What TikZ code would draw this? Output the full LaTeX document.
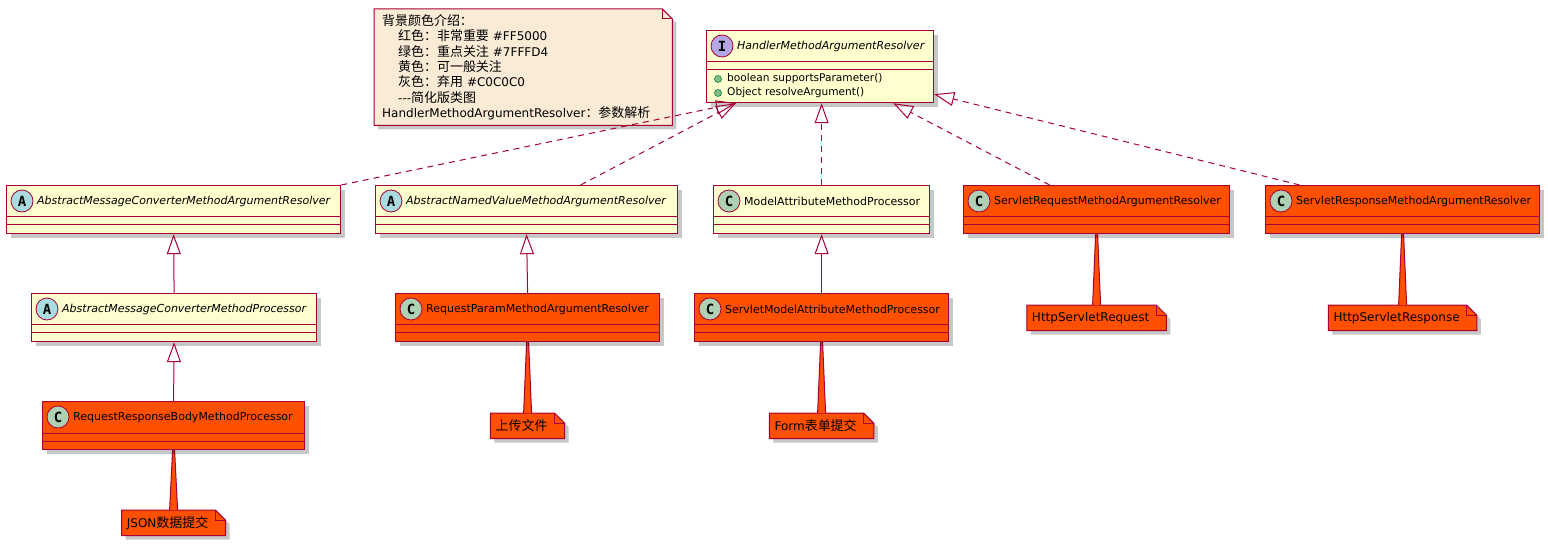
\documentclass[tikz,border=0pt]{standalone}
\usepackage{fontspec}
\setmainfont{DejaVu Sans}[ItalicFont={DejaVu Sans Oblique},BoldFont={DejaVu Sans Bold}]
\newfontfamily\cjk{Noto Sans CJK SC}[Scale=1.08]
\newfontfamily\badgefont{DejaVu Sans Mono}[BoldFont={DejaVu Sans Mono Bold}]
\usepackage{tikz}
\usetikzlibrary{positioning,calc,arrows.meta,shadows}

\newcommand{\zh}[1]{{\cjk #1}}

\definecolor{umlred}{HTML}{A80036}
\definecolor{umlyellow}{HTML}{FEFECE}
\definecolor{hot}{HTML}{FF5000}
\definecolor{notebeige}{HTML}{FAEBD7}
\definecolor{badgeA}{HTML}{A9DCDF}
\definecolor{badgeC}{HTML}{ADD1B2}
\definecolor{badgeI}{HTML}{B4A7E5}
\definecolor{pubfill}{HTML}{84BE84}
\definecolor{publine}{HTML}{038048}

\pgfdeclarelayer{bg}
\pgfsetlayers{bg,main}

\tikzset{
  umlline/.style={draw=umlred, line width=1pt},
  classbox/.style={rectangle, draw=umlred, line width=1.2pt, fill=umlyellow, anchor=north west,
    minimum height=48pt, inner sep=0pt,
    drop shadow={shadow xshift=4pt, shadow yshift=-4pt, fill=black, opacity=0.22}},
  hotbox/.style={classbox, fill=hot},
  badge/.style={circle, draw=umlred, line width=0.8pt, minimum size=22pt, inner sep=0pt,
    font=\badgefont\fontsize{14}{14}\selectfont\bfseries},
  cname/.style={anchor=west, inner sep=0pt, font=\fontsize{11}{13}\selectfont},
  aname/.style={cname, font=\fontsize{11}{13}\selectfont\itshape},
  mname/.style={anchor=west, inner sep=0pt, font=\fontsize{10.6}{12}\selectfont},
  pub/.style={circle, draw=publine, fill=pubfill, line width=0.6pt, minimum size=7pt, inner sep=0pt},
  notebox/.style={rectangle, anchor=north, inner xsep=5pt, inner ysep=0pt, minimum height=25pt,
    font=\fontsize{12}{14}\selectfont},
  legend/.style={rectangle, anchor=north west, text width=282pt, inner xsep=8pt, inner ysep=0pt,
    minimum height=116pt, align=left, font=\fontsize{12}{15.3}\selectfont},
  notepath/.style={umlline, drop shadow={shadow xshift=4pt, shadow yshift=-4pt, fill=black, opacity=0.22}},
  extends/.style={umlline, -{Triangle[open, length=20pt, width=14pt]}},
  realizes/.style={extends, dash pattern=on 6pt off 5pt}
}

\begin{document}
\begin{tikzpicture}[x=1pt, y=-1pt]
  %\draw[step=100,gray,very thin] (0,0) grid (1548,545);
  \useasboundingbox (0,0) rectangle (1548,545);

  % legend note
  \node[legend] (legend) at (374,9) {\zh{背景颜色介绍：}\\
    \hspace*{16pt}\zh{红色：非常重要} \#FF5000\\
    \hspace*{16pt}\zh{绿色：重点关注} \#7FFFD4\\
    \hspace*{16pt}\zh{黄色：可一般关注}\\
    \hspace*{16pt}\zh{灰色：弃用} \#C0C0C0\\
    \hspace*{16pt}-{}-{}-\zh{简化版类图}\\
    HandlerMethodArgumentResolver\zh{：参数解析}};

  % interface
  \node[classbox, minimum width=227pt, minimum height=72pt] (iface) at (706,30) {};
  \node[badge, fill=badgeI] (iface-b) at ([shift={(16pt,-16pt)}]iface.north west) {I};
  \node[aname] (iface-t) at ([shift={(31pt,-16pt)}]iface.north west) {HandlerMethodArgumentResolver};
  \node[pub] (iface-p1) at ([shift={(12pt,-49pt)}]iface.north west) {};
  \node[pub] (iface-p2) at ([shift={(12pt,-63pt)}]iface.north west) {};
  \node[mname] (iface-m1) at ([shift={(21pt,-49pt)}]iface.north west) {boolean supportsParameter()};
  \node[mname] (iface-m2) at ([shift={(21pt,-63pt)}]iface.north west) {Object resolveArgument()};

  % second row
  \node[classbox, minimum width=334pt] (amcmar) at (6,185) {};
  \node[badge, fill=badgeA] (amcmar-b) at ([shift={(16pt,-16pt)}]amcmar.north west) {A};
  \node[aname] (amcmar-t) at ([shift={(31pt,-16pt)}]amcmar.north west) {AbstractMessageConverterMethodArgumentResolver};

  \node[classbox, minimum width=302pt] (anvmar) at (375,185) {};
  \node[badge, fill=badgeA] (anvmar-b) at ([shift={(16pt,-16pt)}]anvmar.north west) {A};
  \node[aname] (anvmar-t) at ([shift={(31pt,-16pt)}]anvmar.north west) {AbstractNamedValueMethodArgumentResolver};

  \node[classbox, minimum width=216pt] (mamp) at (713,185) {};
  \node[badge, fill=badgeC] (mamp-b) at ([shift={(16pt,-16pt)}]mamp.north west) {C};
  \node[cname] (mamp-t) at ([shift={(31pt,-16pt)}]mamp.north west) {ModelAttributeMethodProcessor};

  \node[hotbox, minimum width=266pt] (srmar) at (963,185) {};
  \node[badge, fill=badgeC] (srmar-b) at ([shift={(16pt,-16pt)}]srmar.north west) {C};
  \node[cname] (srmar-t) at ([shift={(31pt,-16pt)}]srmar.north west) {ServletRequestMethodArgumentResolver};

  \node[hotbox, minimum width=274pt] (srespmar) at (1265,185) {};
  \node[badge, fill=badgeC] (srespmar-b) at ([shift={(16pt,-16pt)}]srespmar.north west) {C};
  \node[cname] (srespmar-t) at ([shift={(31pt,-16pt)}]srespmar.north west) {ServletResponseMethodArgumentResolver};

  % third row
  \node[classbox, minimum width=285pt] (amcmp) at (31,293) {};
  \node[badge, fill=badgeA] (amcmp-b) at ([shift={(16pt,-16pt)}]amcmp.north west) {A};
  \node[aname] (amcmp-t) at ([shift={(31pt,-16pt)}]amcmp.north west) {AbstractMessageConverterMethodProcessor};

  \node[hotbox, minimum width=264pt] (rpmar) at (395,293) {};
  \node[badge, fill=badgeC] (rpmar-b) at ([shift={(16pt,-16pt)}]rpmar.north west) {C};
  \node[cname] (rpmar-t) at ([shift={(31pt,-16pt)}]rpmar.north west) {RequestParamMethodArgumentResolver};

  \node[hotbox, minimum width=254pt] (smamp) at (694,293) {};
  \node[badge, fill=badgeC] (smamp-b) at ([shift={(16pt,-16pt)}]smamp.north west) {C};
  \node[cname] (smamp-t) at ([shift={(31pt,-16pt)}]smamp.north west) {ServletModelAttributeMethodProcessor};

  % fourth row
  \node[hotbox, minimum width=262pt] (rrbmp) at (42,401) {};
  \node[badge, fill=badgeC] (rrbmp-b) at ([shift={(16pt,-16pt)}]rrbmp.north west) {C};
  \node[cname] (rrbmp-t) at ([shift={(31pt,-16pt)}]rrbmp.north west) {RequestResponseBodyMethodProcessor};

  % compartments
  \foreach \c in {iface,amcmar,anvmar,mamp,srmar,srespmar,amcmp,rpmar,smamp,rrbmp}{
    \draw[umlline] ([yshift=-32pt]\c.north west) -- ([yshift=-32pt]\c.north east);
    \draw[umlline] ([yshift=-40pt]\c.north west) -- ([yshift=-40pt]\c.north east);
  }

  % notes
  \node[notebox] (n-req) at ([yshift=-71pt]srmar.south) {HttpServletRequest\kern12pt};
  \node[notebox] (n-resp) at ([yshift=-71pt]srespmar.south) {HttpServletResponse\kern12pt};
  \node[notebox] (n-file) at ([yshift=-71pt]rpmar.south) {\zh{上传文件}\kern12pt};
  \node[notebox] (n-form) at ([yshift=-71pt]smamp.south) {Form\zh{表单提交}\kern12pt};
  \node[notebox] (n-json) at ([yshift=-60pt]rrbmp.south) {JSON\zh{数据提交}\kern12pt};

  \begin{pgfonlayer}{bg}
    \foreach \n/\col in {legend/notebeige,n-req/hot,n-resp/hot,n-file/hot,n-form/hot,n-json/hot}{
      \filldraw[notepath, fill=\col] (\n.north west) -- ([xshift=-10pt]\n.north east)
        -- ([yshift=-10pt]\n.north east) -- (\n.south east) -- (\n.south west) -- cycle;
      \draw[umlline] ([xshift=-10pt]\n.north east) |- ([yshift=-10pt]\n.north east);
    }
    \foreach \c/\n in {srmar/n-req,srespmar/n-resp,rpmar/n-file,smamp/n-form,rrbmp/n-json}{
      \fill[hot] ([xshift=-1pt]\c.south) -- ([xshift=-4pt]\n.north) -- ([xshift=4pt]\n.north)
        -- ([xshift=1pt]\c.south) -- cycle;
      \draw[umlline] ([xshift=-1pt]\c.south) -- ([xshift=-4pt]\n.north)
        ([xshift=1pt]\c.south) -- ([xshift=4pt]\n.north);
    }
  \end{pgfonlayer}

  % generalisation
  \draw[extends] (amcmp.north) -- (amcmar.south);
  \draw[extends] (rrbmp.north) -- (amcmp.south);
  \draw[extends] (rpmar.north) -- (anvmar.south);
  \draw[extends] (smamp.north) -- (mamp.south);

  % realisation
  \coordinate (tipA) at ([xshift=30pt]iface.south west);
  \coordinate (tipR) at ([xshift=-41pt]iface.south east);
  \coordinate (tipS) at ([yshift=9pt]iface.south east);
  \draw[realizes] (amcmar.north east) -- (tipA);
  \draw[realizes] ([xshift=54pt]anvmar.north) -- (tipA);
  \draw[realizes] (mamp.north) -- (mamp.north |- iface.south);
  \draw[realizes] ([xshift=-47pt]srmar.north) -- (tipR);
  \draw[realizes] ([xshift=-103pt]srespmar.north) -- (tipS);
\end{tikzpicture}
\end{document}
